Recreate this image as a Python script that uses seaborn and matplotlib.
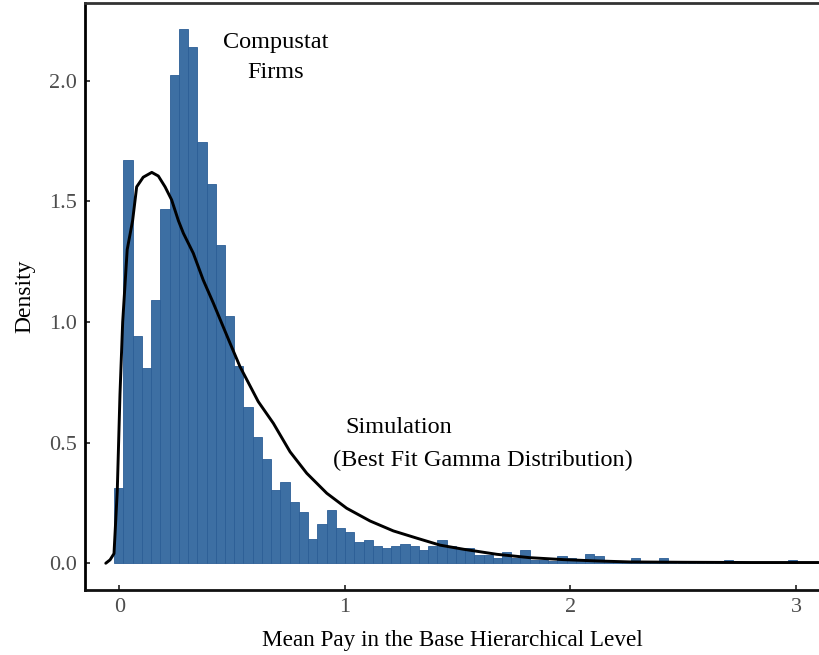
import matplotlib

matplotlib.use("Agg")
import matplotlib.pyplot as plt
import pandas as pd
import seaborn as sns

# histogram of Compustat firms: bar heights (density) per bin
bin_start = -0.0224
bin_width = 0.04093
bar_density = [
    0.313, 1.671, 0.942, 0.809, 1.092, 1.468, 2.024, 2.214, 2.140, 1.746,
    1.572, 1.319, 1.025, 0.818, 0.649, 0.523, 0.432, 0.304, 0.337, 0.255,
    0.214, 0.099, 0.163, 0.221, 0.146, 0.130, 0.088, 0.097, 0.072, 0.063,
    0.072, 0.080, 0.072, 0.055, 0.072, 0.097, 0.072, 0.062, 0.062, 0.033,
    0.033, 0.023, 0.047, 0.023, 0.055, 0.014, 0.014, 0.011, 0.030, 0.022,
    0.014, 0.039, 0.030, 0.008, 0.008, 0.008, 0.022, 0.004, 0.011, 0.022,
    0.0, 0.0, 0.0, 0.0, 0.0, 0.0, 0.013, 0.0, 0.0, 0.0,
    0.0, 0.0, 0.0, 0.013,
]

# simulated best-fit gamma density (smoothed line)
sim_x = [
    -0.060, -0.041, -0.0235, -0.009, 0.003, 0.015, 0.035, 0.059, 0.077, 0.106,
    0.144, 0.173, 0.203, 0.232, 0.262, 0.284, 0.328, 0.372, 0.417, 0.454,
    0.491, 0.535, 0.616, 0.683, 0.757, 0.831, 0.920, 1.008, 1.112, 1.215,
    1.319, 1.422, 1.526, 1.674, 1.821, 1.969, 2.117, 2.265, 2.500, 2.800, 3.100,
]
sim_y = [
    0.0, 0.014, 0.040, 0.300, 0.700, 1.000, 1.300, 1.420, 1.560, 1.600,
    1.620, 1.605, 1.560, 1.506, 1.420, 1.368, 1.285, 1.174, 1.078, 0.995,
    0.912, 0.815, 0.670, 0.580, 0.462, 0.373, 0.290, 0.228, 0.175, 0.134,
    0.104, 0.075, 0.058, 0.037, 0.023, 0.015, 0.0095, 0.0054, 0.004, 0.003, 0.003,
]

x_ticks = [0, 1, 2, 3]
y_ticks = [0.0, 0.5, 1.0, 1.5, 2.0]

sns.set_theme(style="white")
plt.rcParams["font.family"] = ["Liberation Serif", "DejaVu Serif"]
plt.rcParams["text.color"] = "black"
plt.rcParams["axes.labelcolor"] = "black"

n_bins = len(bar_density)
edges = [bin_start + bin_width * k for k in range(n_bins + 1)]
hist_df = pd.DataFrame({
    "pay": [(edges[k] + edges[k + 1]) / 2 for k in range(n_bins)],
    "density": bar_density,
})
sim_df = pd.DataFrame({"pay": sim_x, "density": sim_y})

fig = plt.figure(figsize=(8.19, 6.55), dpi=100)
ax = fig.add_axes([0.1038, 0.0992, 0.8962, 0.8962])

sns.histplot(data=hist_df, x="pay", weights="density", bins=edges, stat="count",
             color="#3d6fa3", edgecolor="#2c5e96", linewidth=0.6, alpha=1.0, ax=ax)
sns.lineplot(data=sim_df, x="pay", y="density", color="black", linewidth=2.1,
             sort=False, ax=ax)

ax.text(0.695, 2.157, "Compustat", ha="center", va="center", fontsize=17.5)
ax.text(0.695, 2.033, "Firms", ha="center", va="center", fontsize=17.5)
ax.text(1.001, 0.561, "Simulation", ha="left", va="center", fontsize=17.5)
ax.text(0.948, 0.424, "(Best Fit Gamma Distribution)", ha="left", va="center", fontsize=17.5)

ax.set_xlim(-0.152, 3.102)
ax.set_ylim(-0.111, 2.322)
ax.set_xticks(x_ticks)
ax.set_yticks(y_ticks)
ax.set_yticklabels([f"{v:.1f}" for v in y_ticks])
ax.tick_params(direction="in", length=3.5, width=1.3, color="#333333",
               labelsize=16, labelcolor="#4d4d4d", pad=6, left=True, bottom=True)
ax.set_xlabel("Mean Pay in the Base Hierarchical Level", fontsize=16.7, labelpad=9)
ax.set_ylabel("Density", fontsize=17, labelpad=10)

for side in ["left", "bottom", "top"]:
    ax.spines[side].set_visible(True)
    ax.spines[side].set_linewidth(2.0)
ax.spines["left"].set_color("black")
ax.spines["bottom"].set_color("#111111")
ax.spines["top"].set_color("#333333")
ax.spines["right"].set_visible(False)

fig.savefig("out.png", dpi=100)
